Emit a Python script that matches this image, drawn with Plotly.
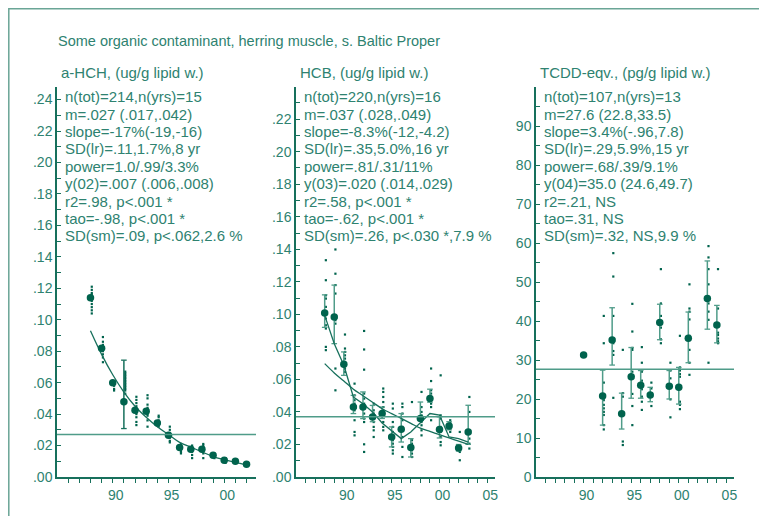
import plotly.graph_objects as go

W, H = 767, 516
OFF = 8  # the page places the figure 8 px from the window's top-left corner

# ---------------- data ----------------
hch_years = [88, 89, 90, 91, 92, 93, 94, 95, 96, 97, 98, 99, 100, 101, 102]
hch_means = [0.114, 0.0818, 0.0599, 0.0478, 0.0425, 0.0418, 0.0344, 0.0266, 0.0187, 0.0176, 0.0176, 0.0138, 0.0106, 0.0100, 0.0081]
hch_fit = [0.093, 0.078, 0.065, 0.054, 0.045, 0.038, 0.032, 0.027, 0.022, 0.019, 0.016, 0.013, 0.011, 0.0093, 0.0078]
hch_err_top = [0.114, 0.0818, 0.0599, 0.0743, 0.0425, 0.0418, 0.0344, 0.0266, 0.0187, 0.0176, 0.0176, 0.0138, 0.0106, 0.0100, 0.0081]
hch_err_bot = [0.114, 0.0818, 0.0599, 0.0308, 0.0425, 0.0418, 0.0344, 0.0266, 0.0187, 0.0176, 0.0176, 0.0138, 0.0106, 0.0100, 0.0081]
hch_samples = [
    [0.121, 0.119, 0.117, 0.116, 0.115, 0.113, 0.112, 0.110, 0.108, 0.106, 0.104],
    [0.089, 0.086, 0.084, 0.082, 0.081, 0.080, 0.078, 0.076, 0.073],
    [0.061, 0.060, 0.059, 0.058, 0.056, 0.055],
    [0.067, 0.066, 0.065, 0.064, 0.063, 0.062, 0.061, 0.060, 0.059, 0.058, 0.057, 0.056, 0.055, 0.053],
    [0.051, 0.049, 0.047, 0.045, 0.043, 0.042, 0.041, 0.040, 0.038, 0.035, 0.033],
    [0.052, 0.050, 0.046, 0.044, 0.043, 0.042, 0.041, 0.040, 0.039, 0.036, 0.032],
    [0.039, 0.038, 0.036, 0.035, 0.034, 0.033, 0.032],
    [0.032, 0.030, 0.028, 0.027, 0.026, 0.025, 0.023, 0.022],
    [0.021, 0.020, 0.019, 0.018, 0.017, 0.016, 0.015],
    [0.020, 0.019, 0.018, 0.017, 0.016, 0.014, 0.012],
    [0.021, 0.020, 0.019, 0.018, 0.017, 0.015, 0.012],
    [0.015, 0.014, 0.013, 0.012],
    [0.012, 0.011, 0.010, 0.009],
    [0.0105, 0.010, 0.009],
    [0.009, 0.008, 0.0075],
]
hch_m = 0.027
hch_stats = ["n(tot)=214,n(yrs)=15", "m=.027 (.017,.042)", "slope=-17%(-19,-16)",
             "SD(lr)=.11,1.7%,8 yr", "power=1.0/.99/3.3%", "y(02)=.007 (.006,.008)",
             "r2=.98, p<.001 *", "tao=-.98, p<.001 *", "SD(sm)=.09, p<.062,2.6 %"]

hcb_years = [88, 89, 90, 91, 92, 93, 94, 95, 96, 97, 98, 99, 100, 101, 102, 103]
hcb_means = [0.1009, 0.0984, 0.0693, 0.0431, 0.0431, 0.0369, 0.0390, 0.0246, 0.0293, 0.0181, 0.0359, 0.0482, 0.0292, 0.0314, 0.0178, 0.0277]
hcb_fit = [0.0697, 0.064, 0.059, 0.054, 0.050, 0.046, 0.042, 0.039, 0.036, 0.033, 0.030, 0.028, 0.026, 0.024, 0.022, 0.020]
hcb_smooth = [0.0994, 0.082, 0.0687, 0.0492, 0.0451, 0.040, 0.0332, 0.0283, 0.0236, 0.0277, 0.0332, 0.039, 0.038, 0.0246, 0.0236, 0.0215]
hcb_err_top = [0.112, 0.118, 0.0769, 0.0502, 0.0523, 0.044, 0.043, 0.0308, 0.039, 0.0236, 0.0461, 0.0540, 0.037, 0.034, 0.020, 0.0441]
hcb_err_bot = [0.092, 0.082, 0.0625, 0.039, 0.0359, 0.034, 0.036, 0.0185, 0.0215, 0.0123, 0.0359, 0.0460, 0.024, 0.029, 0.016, 0.0201]
hcb_samples = [
    [0.1333, 0.121, 0.1117, 0.1097, 0.1046, 0.1015, 0.0974, 0.0933, 0.0913, 0.080, 0.078],
    [0.1399, 0.125, 0.118, 0.1128, 0.0964, 0.0943, 0.0667, 0.0533],
    [0.0876, 0.079, 0.0769, 0.0748, 0.0728, 0.0707, 0.0667, 0.0646],
    [0.0574, 0.0502, 0.0472, 0.0451, 0.043, 0.041, 0.0349, 0.0277, 0.0256],
    [0.0898, 0.0784, 0.066, 0.0513, 0.0482, 0.0451, 0.0421, 0.039, 0.0359, 0.0338, 0.0201, 0.0154],
    [0.0451, 0.041, 0.039, 0.0369, 0.0338, 0.0308, 0.0287, 0.0246],
    [0.0544, 0.0523, 0.0492, 0.0461, 0.043, 0.041, 0.0379, 0.0338, 0.0308, 0.0287],
    [0.0451, 0.0421, 0.0338, 0.0308, 0.0277, 0.0246, 0.0226, 0.0205, 0.0185, 0.0164, 0.0144],
    [0.0451, 0.043, 0.039, 0.0349, 0.0308, 0.0246, 0.0185, 0.0123],
    [0.0461, 0.0226, 0.0205, 0.0185, 0.0164, 0.0144, 0.0123],
    [0.0523, 0.043, 0.040, 0.0379, 0.0359, 0.0338, 0.0318, 0.0287, 0.0256],
    [0.0667, 0.059, 0.0533, 0.0513, 0.0492, 0.0472, 0.0451, 0.043, 0.0349],
    [0.0625, 0.0379, 0.0359, 0.0308, 0.0277, 0.0246, 0.0215, 0.0195],
    [0.0349, 0.0332, 0.0318, 0.0298, 0.0277],
    [0.0277, 0.0195, 0.0175, 0.0154, 0.0103],
    [0.0492, 0.040, 0.0236, 0.0205, 0.0175],
]
hcb_m = 0.037
hcb_stats = ["n(tot)=220,n(yrs)=16", "m=.037 (.028,.049)", "slope=-8.3%(-12,-4.2)",
             "SD(lr)=.35,5.0%,16 yr", "power=.81/.31/11%", "y(03)=.020 (.014,.029)",
             "r2=.58, p<.001 *", "tao=-.62, p<.001 *", "SD(sm)=.26, p<.030 *,7.9 %"]

tcdd_years = [90, 92, 93, 94, 95, 96, 97, 98, 99, 100, 101, 103, 104]
tcdd_means = [31.3, 20.8, 35.1, 16.2, 25.7, 23.5, 21.0, 39.6, 23.3, 23.0, 35.6, 45.8, 39.0]
tcdd_err_top = [31.3, 27.4, 43.4, 21.5, 33.2, 27.3, 23.0, 44.3, 27.3, 28.1, 42.3, 55.4, 44.0]
tcdd_err_bot = [31.3, 13.3, 28.7, 12.3, 20.2, 20.2, 19.3, 35.2, 20.0, 18.7, 29.3, 37.9, 34.4]
tcdd_samples = [
    [31.3],
    [41.3, 34.3, 24.2, 19.7, 18.5, 17.6, 16.7, 15.9, 13.3, 12.2],
    [57.4, 51.4, 41.3, 34.3, 32.3, 31.3, 20.3],
    [32.6, 21.5, 20.6, 9.1, 8.2],
    [44.4, 37.3, 33.1, 32.6, 27.0, 21.3, 18.2, 13.3],
    [33.3, 29.3, 27.0, 24.7, 22.5, 20.6, 19.3, 17.2],
    [24.2, 22.7, 21.5, 18.2],
    [53.3, 44.5, 41.3, 38.3, 35.3, 34.3],
    [29.3, 27.3, 25.3, 23.2, 19.9, 15.3],
    [36.2, 28.1, 27.3, 26.4, 25.7, 19.3, 18.5, 17.4],
    [49.4, 43.2, 42.4, 40.4, 36.2, 35.1, 32.6, 29.3, 26.2],
    [59.2, 56.3, 53.3, 49.4, 44.5, 42.4, 40.3, 29.3],
    [53.3, 43.2, 37.0, 36.4, 35.5, 34.8, 34.3],
]
tcdd_m = 27.6
tcdd_stats = ["n(tot)=107,n(yrs)=13", "m=27.6 (22.8,33.5)", "slope=3.4%(-.96,7.8)",
              "SD(lr)=.29,5.9%,15 yr", "power=.68/.39/9.1%", "y(04)=35.0 (24.6,49.7)",
              "r2=.21, NS", "tao=.31, NS", "SD(sm)=.32, NS,9.9 %"]

main_title = "Some organic contaminant, herring muscle, s. Baltic Proper"
panel_titles = ["a-HCH, (ug/g lipid w.)", "HCB, (ug/g lipid w.)", "TCDD-eqv., (pg/g lipid w.)"]

# ---------------- style ----------------
DARK = "#00634d"
LINE = "#17705c"
LIGHT = "#4f9c89"
TEXT = "#2e8270"
FONT = "Liberation Sans, Arial, sans-serif"


def px(x):
    return (x - OFF) / W


def py(y):
    return 1 - (y - OFF) / H


panels = [
    dict(x0=57, x1=256, xr=[85, 102.85], yr=[0, 0.248], ydt=0.01, ylab=0.02, fmt="f", ymaxlab=0.24, xlabs=[90, 95, 100]),
    dict(x0=296, x1=495, xr=[85, 105.8], yr=[0, 0.2398], ydt=0.01, ylab=0.02, fmt="f", ymaxlab=0.22, xlabs=[90, 95, 100, 105]),
    dict(x0=536, x1=734, xr=[85, 105.8], yr=[0, 100], ydt=5, ylab=10, fmt="d", ymaxlab=90, xlabs=[90, 95, 100, 105]),
]
Y_TOP, Y_BOT = 87, 477

fig = go.Figure()
layout = dict(width=W, height=H, margin=dict(l=0, r=0, t=0, b=0, pad=0, autoexpand=False),
              paper_bgcolor="white", plot_bgcolor="white", showlegend=False,
              font=dict(family=FONT, color=TEXT, size=13))


def ylabel(v, fmt):
    if fmt == "d":
        return str(int(round(v)))
    s = f"{v:.2f}"
    return s[1:] if s.startswith("0") else s


for i, p in enumerate(panels):
    n = "" if i == 0 else str(i + 1)
    yv, yt = [], []
    k = 0
    while k * p["ydt"] <= p["yr"][1] + 1e-9:
        v = round(k * p["ydt"], 6)
        yv.append(v)
        step = round(v / p["ylab"], 6)
        ok = abs(step - round(step)) < 1e-6 and v <= p["ymaxlab"] + 1e-9
        yt.append(ylabel(v, p["fmt"]) if ok else "")
        k += 1
    xv = list(range(86, int(p["xr"][1]) + 1))
    xt = [f"{v % 100:02d}" if v in p["xlabs"] else "" for v in xv]
    layout["xaxis" + n] = dict(domain=[px(p["x0"]), px(p["x1"])], range=p["xr"], anchor="y" + n,
                               showgrid=False, zeroline=False, showline=True, linecolor=LINE, linewidth=1.5,
                               ticks="outside", ticklen=4, tickwidth=1, tickcolor=LINE, automargin=False,
                               tickvals=xv, ticktext=xt, tickfont=dict(size=14, color=TEXT),
                               ticklabelshift=3)
    layout["yaxis" + n] = dict(domain=[py(Y_BOT), py(Y_TOP)], range=p["yr"], anchor="x" + n,
                               showgrid=False, zeroline=False, showline=True, linecolor=LINE, linewidth=1.5,
                               ticks="inside", ticklen=4, tickwidth=1, tickcolor=LINE, automargin=False,
                               tickvals=yv, ticktext=yt, tickfont=dict(size=14, color=TEXT))


def add_samples(years, samples, xa, ya):
    xs, ys = [], []
    for yr_, vals in zip(years, samples):
        for v in vals:
            xs.append(yr_ + 0.12)
            ys.append(v)
    fig.add_trace(go.Scatter(x=xs, y=ys, mode="markers", xaxis=xa, yaxis=ya,
                             marker=dict(symbol="square", size=2.2, color=DARK, line=dict(width=0))))


def add_errbars(years, top, bot, xa, ya, color):
    for yr_, t, b in zip(years, top, bot):
        if t - b <= 0:
            continue
        fig.add_trace(go.Scatter(x=[yr_, yr_], y=[b, t], mode="lines+markers", xaxis=xa, yaxis=ya,
                                 line=dict(color=color, width=1.5),
                                 marker=dict(symbol="line-ew", size=4, line=dict(color=color, width=1.3))))


# ---- panel 1: a-HCH ----
add_samples(hch_years, hch_samples, "x", "y")
add_errbars(hch_years, hch_err_top, hch_err_bot, "x", "y", LINE)
fig.add_trace(go.Scatter(x=hch_years, y=hch_fit, mode="lines", xaxis="x", yaxis="y",
                         line=dict(color=LINE, width=1.3, shape="spline")))
fig.add_trace(go.Scatter(x=hch_years, y=hch_means, mode="markers", xaxis="x", yaxis="y",
                         marker=dict(size=7.5, color=DARK, line=dict(width=0))))

# ---- panel 2: HCB ----
add_samples(hcb_years, hcb_samples, "x2", "y2")
add_errbars(hcb_years, hcb_err_top, hcb_err_bot, "x2", "y2", LIGHT)
fig.add_trace(go.Scatter(x=hcb_years, y=hcb_fit, mode="lines", xaxis="x2", yaxis="y2",
                         line=dict(color=LINE, width=1.3, shape="spline")))
fig.add_trace(go.Scatter(x=hcb_years, y=hcb_smooth, mode="lines", xaxis="x2", yaxis="y2",
                         line=dict(color=LINE, width=1.3)))
fig.add_trace(go.Scatter(x=hcb_years, y=hcb_means, mode="markers", xaxis="x2", yaxis="y2",
                         marker=dict(size=7.5, color=DARK, line=dict(width=0))))

# ---- panel 3: TCDD ----
add_samples(tcdd_years, tcdd_samples, "x3", "y3")
add_errbars(tcdd_years, tcdd_err_top, tcdd_err_bot, "x3", "y3", LIGHT)
fig.add_trace(go.Scatter(x=tcdd_years, y=tcdd_means, mode="markers", xaxis="x3", yaxis="y3",
                         marker=dict(size=7.5, color=DARK, line=dict(width=0))))

# mean lines
shapes = []
for n, m in (("", hch_m), ("2", hcb_m), ("3", tcdd_m)):
    shapes.append(dict(type="line", xref=("x" + n) + " domain", yref="y" + n,
                       x0=0, x1=1, y0=m, y1=m, line=dict(color=LIGHT, width=1.5)))
# frame (top and left edges visible)
shapes.append(dict(type="rect", xref="paper", yref="paper", x0=0.8 / W, x1=1 + 20 / W, y0=-20 / H, y1=1 - 0.8 / H,
                   line=dict(color="#6aa596", width=1.5), fillcolor="rgba(0,0,0,0)", layer="below"))
layout["shapes"] = shapes

ann = []
ann.append(dict(text=main_title, x=px(56), y=py(41), xref="paper", yref="paper",
                xanchor="left", yanchor="middle", showarrow=False, font=dict(size=14.5, color=TEXT)))
for p, t in zip(panels, panel_titles):
    ann.append(dict(text=t, x=px(p["x0"] + 2), y=py(72.5), xref="paper", yref="paper",
                    xanchor="left", yanchor="middle", showarrow=False, font=dict(size=15, color=TEXT)))
for p, stats in zip(panels, (hch_stats, hcb_stats, tcdd_stats)):
    for j, s in enumerate(stats):
        ann.append(dict(text=s.replace("<", "&lt;"), x=px(p["x0"] + 6), y=py(96.7 + 17.4 * j),
                        xref="paper", yref="paper", xanchor="left", yanchor="middle",
                        showarrow=False, font=dict(size=15, color=TEXT)))
layout["annotations"] = ann

fig.update_layout(**layout)
fig.write_html("out.html")
